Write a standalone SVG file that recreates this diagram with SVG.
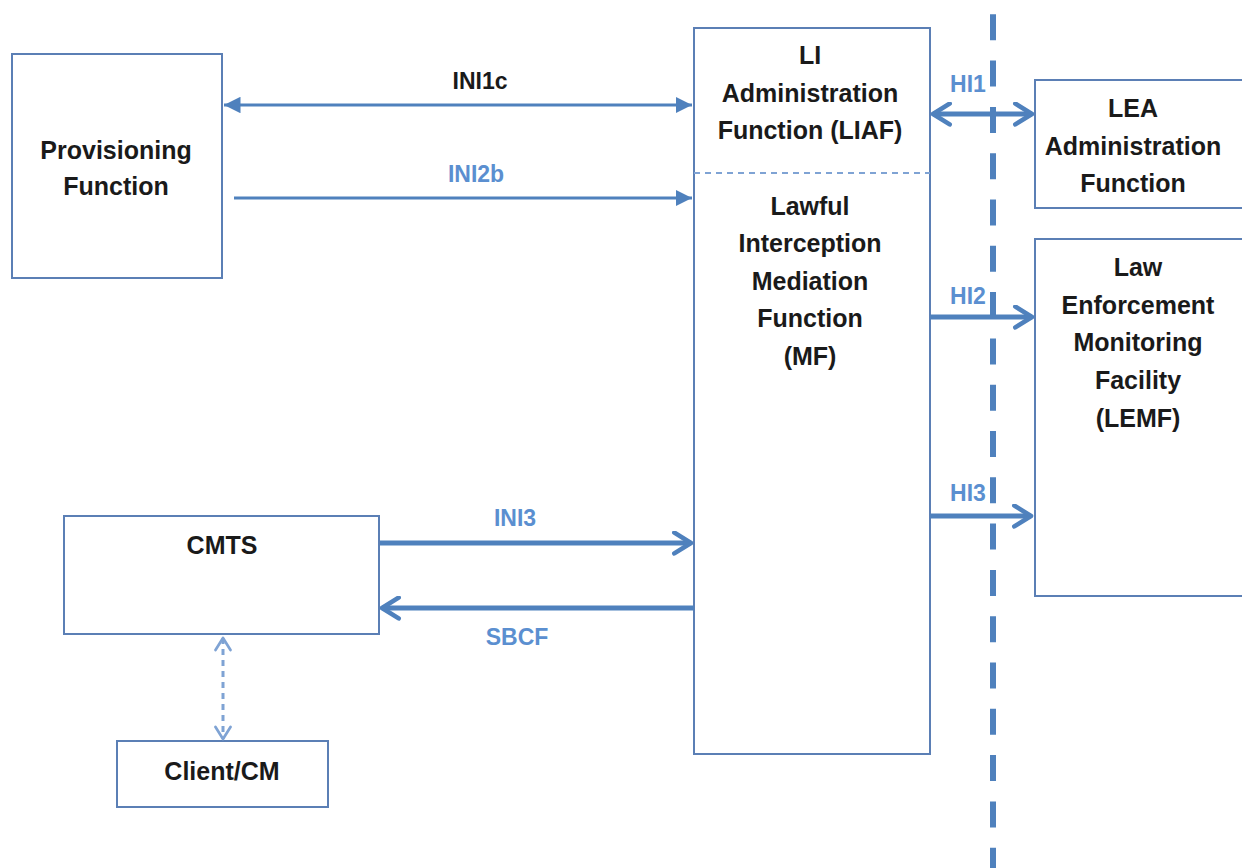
<svg xmlns="http://www.w3.org/2000/svg" width="1242" height="868" viewBox="0 0 1242 868">
  <style>
    .box { fill: #ffffff; stroke: #5b7fb5; stroke-width: 2; }
    .t { font-family: "Liberation Sans", Arial, sans-serif; font-size: 25px; font-weight: bold; fill: #1a1a1a; text-anchor: middle; }
    .lbl { font-family: "Liberation Sans", Arial, sans-serif; font-size: 23px; font-weight: bold; fill: #5b8fd0; text-anchor: middle; }
    .lblk { fill: #1a1a1a; }
    .thin { stroke: #4f81bd; stroke-width: 3; fill: none; }
    .thick { stroke: #4f81bd; stroke-width: 5; fill: none; }
  </style>
  <defs>
    <marker id="tri" viewBox="0 0 10 10" refX="10" refY="5" markerWidth="5.5" markerHeight="5.5" orient="auto-start-reverse" markerUnits="strokeWidth">
      <path d="M0,0 L10,5 L0,10 Z" fill="#4f81bd"/>
    </marker>
    <marker id="chev" viewBox="0 0 12 12" refX="10" refY="6" markerWidth="5" markerHeight="5" orient="auto-start-reverse" markerUnits="strokeWidth">
      <path d="M2,1 L10,6 L2,11" fill="none" stroke="#4f81bd" stroke-width="2.2" stroke-linecap="round" stroke-linejoin="round"/>
    </marker>
    <marker id="dotchev" viewBox="0 0 12 12" refX="10" refY="6" markerWidth="6" markerHeight="6" orient="auto-start-reverse" markerUnits="strokeWidth">
      <path d="M2,1 L10,6 L2,11" fill="none" stroke="#7fa3d4" stroke-width="1.8" stroke-linecap="round" stroke-linejoin="round"/>
    </marker>
  </defs>

  <rect width="1242" height="868" fill="#ffffff"/>

  <!-- handover boundary -->
  <line x1="993" y1="-32" x2="993" y2="868" stroke="#4f81bd" stroke-width="6" stroke-dasharray="26,20.3"/>

  <g id="provisioning">
    <rect class="box" x="12" y="54" width="210" height="224"/>
    <text class="t" x="116" y="159">Provisioning</text>
    <text class="t" x="116" y="195">Function</text>
  </g>

  <g id="liaf-mf">
    <rect class="box" x="694" y="28" width="236" height="726"/>
    <line x1="694" y1="173" x2="930" y2="173" stroke="#7fa3d4" stroke-width="2" stroke-dasharray="6,5"/>
    <text class="t" x="810" y="64">LI</text>
    <text class="t" x="810" y="102">Administration</text>
    <text class="t" x="810" y="139">Function (LIAF)</text>
    <text class="t" x="810" y="215">Lawful</text>
    <text class="t" x="810" y="252">Interception</text>
    <text class="t" x="810" y="290">Mediation</text>
    <text class="t" x="810" y="327">Function</text>
    <text class="t" x="810" y="365">(MF)</text>
  </g>

  <g id="lea-admin">
    <rect class="box" x="1035" y="80" width="215" height="128"/>
    <text class="t" x="1133" y="117">LEA</text>
    <text class="t" x="1133" y="155">Administration</text>
    <text class="t" x="1133" y="192">Function</text>
  </g>

  <g id="lemf">
    <rect class="box" x="1035" y="239" width="215" height="357"/>
    <text class="t" x="1138" y="276">Law</text>
    <text class="t" x="1138" y="314">Enforcement</text>
    <text class="t" x="1138" y="351">Monitoring</text>
    <text class="t" x="1138" y="389">Facility</text>
    <text class="t" x="1138" y="427">(LEMF)</text>
  </g>

  <g id="cmts">
    <rect class="box" x="64" y="516" width="315" height="118"/>
    <text class="t" x="222" y="554">CMTS</text>
  </g>

  <g id="client-cm">
    <rect class="box" x="117" y="741" width="211" height="66"/>
    <text class="t" x="222" y="780">Client/CM</text>
  </g>

  <g id="connectors">
    <line class="thin" x1="224" y1="105" x2="692" y2="105" marker-start="url(#tri)" marker-end="url(#tri)"/>
    <text class="lbl lblk" x="480" y="89">INI1c</text>

    <line class="thin" x1="234" y1="198" x2="692" y2="198" marker-end="url(#tri)"/>
    <text class="lbl" x="476" y="182">INI2b</text>

    <line class="thick" x1="380" y1="543" x2="691" y2="543" marker-end="url(#chev)"/>
    <text class="lbl" x="515" y="526">INI3</text>

    <line class="thick" x1="694" y1="608" x2="382" y2="608" marker-end="url(#chev)"/>
    <text class="lbl" x="517" y="645">SBCF</text>

    <line class="thick" x1="933" y1="114" x2="1032" y2="114" marker-start="url(#chev)" marker-end="url(#chev)"/>
    <text class="lbl" x="968" y="92">HI1</text>

    <line class="thick" x1="930" y1="317" x2="1032" y2="317" marker-end="url(#chev)"/>
    <text class="lbl" x="968" y="304">HI2</text>

    <line class="thick" x1="930" y1="516" x2="1031" y2="516" marker-end="url(#chev)"/>
    <text class="lbl" x="968" y="501">HI3</text>

    <line x1="223" y1="638" x2="223" y2="739" stroke="#7fa3d4" stroke-width="3" stroke-dasharray="6,5" marker-start="url(#dotchev)" marker-end="url(#dotchev)"/>
  </g>
</svg>
